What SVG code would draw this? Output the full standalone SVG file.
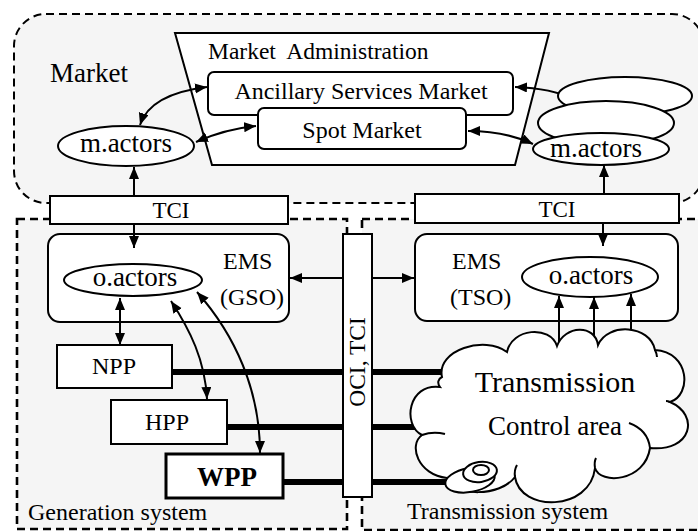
<svg xmlns="http://www.w3.org/2000/svg" width="698" height="531" viewBox="0 0 698 531">
<defs>
<marker id="ah" markerUnits="userSpaceOnUse" markerWidth="13" markerHeight="11" refX="12" refY="5" orient="auto-start-reverse">
<path d="M0,0 L12,5 L0,10 z" fill="#000"/>
</marker>
<style>
.t{font-family:"Liberation Serif","Times New Roman",serif;fill:#000}
.box{fill:#fff;stroke:#000;stroke-width:2}
.region{fill:#f5f5f5;stroke:#000;stroke-dasharray:8 5}
.ln{fill:none;stroke:#000;stroke-width:2}
.arr{fill:none;stroke:#000;stroke-width:2;marker-end:url(#ah)}
.arr2{fill:none;stroke:#000;stroke-width:2;marker-start:url(#ah);marker-end:url(#ah)}
.thick{fill:none;stroke:#000;stroke-width:6}
</style>
</defs>
<rect width="698" height="531" fill="#fff"/>
<g id="market-region">
<rect class="region" x="14" y="14" width="690" height="189" rx="32" style="stroke-width:2"/>
<text class="t" x="50" y="82" font-size="27">Market</text>
</g>
<g id="generation-region">
<rect class="region" x="17" y="219" width="330" height="310" style="stroke-width:2.6"/>
<text class="t" x="28" y="520" font-size="24">Generation system</text>
</g>
<g id="transmission-region">
<rect class="region" x="362" y="219" width="350" height="311" style="stroke-width:2.6"/>
<text class="t" x="407" y="519" font-size="24">Transmission system</text>
</g>
<g id="market-admin">
<path class="box" d="M175,33 L549,33 L515,165 L212,165 Z"/>
<text class="t" x="208" y="59" font-size="23.5" xml:space="preserve">Market  Administration</text>
</g>
<g id="ems-gso">
<rect class="box" x="48" y="234" width="241" height="88" rx="12"/>
<text class="t" x="223" y="269" font-size="24">EMS</text>
<text class="t" x="220" y="305" font-size="24">(GSO)</text>
</g>
<g id="ems-tso">
<rect class="box" x="415" y="234" width="263" height="87" rx="12"/>
<text class="t" x="452" y="269" font-size="24">EMS</text>
<text class="t" x="450" y="305" font-size="24">(TSO)</text>
</g>
<g id="connectors">
<path class="arr2" d="M140,125 Q150,94 207,87"/>
<path class="arr2" d="M196,142 Q225,129 256,126"/>
<path class="arr2" d="M515,87 Q590,90 595,128"/>
<path class="arr2" d="M468,131 Q505,131 533,144"/>
<path class="arr" d="M134,196 L134,167"/>
<path class="arr" d="M134,224 L134,248"/>
<path class="arr" d="M604,194 L604,165"/>
<path class="arr" d="M603,223 L603,246"/>
<path class="arr" d="M343,278 L290,278"/>
<path class="arr" d="M372,278 L414,278"/>
<path class="arr2" d="M120,298 L120,345"/>
<path class="arr2" d="M171,301 C190,330 205,360 207,399"/>
<path class="arr2" d="M197,292 C235,335 260,390 260,453"/>
<path class="arr" d="M559,350 L559,296"/>
<path class="arr" d="M594,350 L594,297"/>
<path class="arr" d="M631,350 L631,294"/>
<path class="thick" d="M172,372 L455,372"/>
<path class="thick" d="M227,427 L432,427"/>
<path class="thick" d="M283,482 L460,482"/>
</g>
<g id="cloud">
<path class="box" d="M442,377 C436,350 485,335 507,352 C512,328 550,325 557,346 C565,325 595,324 598,345 C608,322 650,325 655,350 C690,352 692,395 670,402 C700,415 692,452 650,448 C645,482 600,485 595,468 C590,512 520,512 515,477 C500,497 455,497 447,478 C418,475 408,445 422,435 C402,425 408,383 440,387 C437,383 438,379 442,377 Z"/>
<path class="ln" d="M422,435 Q433,431 445,434"/>
<path class="ln" d="M629,423 Q648,430 650,448"/>
<path class="ln" d="M595,468 Q594,462 596,458"/>
<path class="ln" d="M515,477 Q514,470 517,465"/>
<path class="ln" d="M655,350 Q657,354 657,357"/>
<path class="ln" d="M670,402 Q668,401 666,401"/>
<ellipse class="box" cx="470" cy="480" rx="25" ry="12" transform="rotate(-10 470 480)"/>
<ellipse class="box" cx="480" cy="472" rx="17" ry="10" transform="rotate(-8 480 472)"/>
<ellipse class="box" cx="481" cy="470" rx="8" ry="5"/>
<text class="t" x="555" y="392" font-size="30" text-anchor="middle">Transmission</text>
<text class="t" x="555" y="435" font-size="27" text-anchor="middle">Control area</text>
</g>
<g id="ancillary-market">
<rect class="box" x="208" y="72" width="305" height="43" rx="6"/>
<text class="t" x="361" y="99" font-size="24" text-anchor="middle">Ancillary Services Market</text>
</g>
<g id="spot-market">
<rect class="box" x="258" y="108" width="208" height="41" rx="6"/>
<text class="t" x="362" y="138" font-size="24" text-anchor="middle">Spot Market</text>
</g>
<g id="m-actors-left">
<ellipse class="box" cx="126" cy="146" rx="68" ry="20"/>
<text class="t" x="126" y="152" font-size="27" text-anchor="middle">m.actors</text>
</g>
<g id="m-actors-right">
<ellipse class="box" cx="625" cy="96" rx="67" ry="19"/>
<ellipse class="box" cx="606" cy="123" rx="68" ry="22"/>
<ellipse class="box" cx="601" cy="149" rx="68" ry="16"/>
<text class="t" x="596" y="157" font-size="27" text-anchor="middle">m.actors</text>
</g>
<g id="tci-left">
<rect class="box" x="50" y="196" width="238" height="28"/>
<text class="t" x="171" y="218" font-size="23" text-anchor="middle">TCI</text>
</g>
<g id="tci-right">
<rect class="box" x="415" y="194" width="264" height="29"/>
<text class="t" x="557" y="217" font-size="23" text-anchor="middle">TCI</text>
</g>
<g id="o-actors-gso">
<ellipse class="box" cx="133" cy="280" rx="69" ry="16"/>
<text class="t" x="135" y="286" font-size="27" text-anchor="middle">o.actors</text>
</g>
<g id="o-actors-tso">
<ellipse class="box" cx="590" cy="277" rx="68" ry="20"/>
<text class="t" x="591" y="284" font-size="27" text-anchor="middle">o.actors</text>
</g>
<g id="oci-tci">
<rect class="box" x="343" y="234" width="29" height="263"/>
<text class="t" x="0" y="0" font-size="23.5" text-anchor="middle" transform="translate(365 362) rotate(-90)">OCI, TCI</text>
</g>
<g id="npp">
<rect class="box" x="57" y="345" width="115" height="43"/>
<text class="t" x="114" y="374" font-size="24" text-anchor="middle">NPP</text>
</g>
<g id="hpp">
<rect class="box" x="111" y="400" width="116" height="44"/>
<text class="t" x="167" y="430" font-size="24" text-anchor="middle">HPP</text>
</g>
<g id="wpp">
<rect class="box" x="166" y="454" width="117" height="44" style="stroke-width:3"/>
<text class="t" x="227" y="486" font-size="27" font-weight="bold" text-anchor="middle">WPP</text>
</g>
</svg>
